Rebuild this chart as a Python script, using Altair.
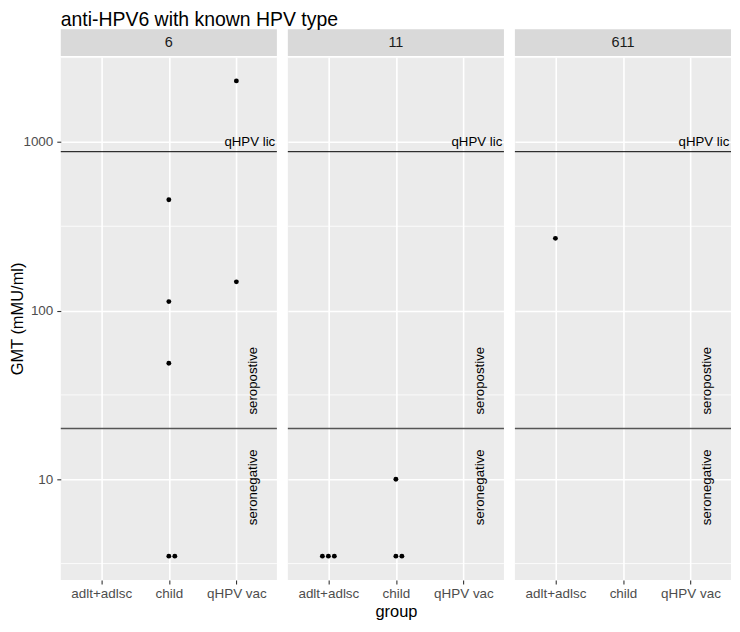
import altair as alt
import pandas as pd

TITLE = "anti-HPV6 with known HPV type"
panels = ["6", "11", "611"]
groups = ["adlt+adlsc", "child", "qHPV vac"]

pt_type = ["6"] * 7 + ["11"] * 6 + ["611"]
pt_group = (["child"] * 5 + ["qHPV vac"] * 2
            + ["adlt+adlsc"] * 3 + ["child"] * 3
            + ["adlt+adlsc"])
pt_gmt = [454, 113, 48.7, 3.5, 3.5, 2300, 148,
          3.5, 3.5, 3.5, 10, 3.5, 3.5,
          268]

lic_level = 875
lic_label = "qHPV lic"
sero_level = 20
sero_above = "seropostive"
sero_below = "seronegative"

y_ticks = [10, 100, 1000]
y_minor = [3.162, 31.62, 316.2, 3162]
y_domain = [2.53, 3185]

FONT = "Liberation Sans"
PW, PH = 217, 525

pts = pd.DataFrame({"type": pt_type, "group": pt_group, "gmt": pt_gmt})
key = ["type", "group", "gmt"]
pts["rank"] = pts.groupby(key).cumcount()
pts["n"] = pts.groupby(key)["gmt"].transform("size")
pts["dodge"] = pts["rank"] - (pts["n"] - 1) // 2

minor_df = pd.DataFrame({"gmt": y_minor})
lic_df = pd.DataFrame({"group": ["qHPV vac"], "gmt": [lic_level], "label": [lic_label]})
above_df = pd.DataFrame({"group": ["qHPV vac"], "gmt": [sero_level], "label": [sero_above]})
below_df = pd.DataFrame({"group": ["qHPV vac"], "gmt": [sero_level], "label": [sero_below]})


def panel(t, i):
    first = i == 0
    middle = i == 1
    xs = alt.Scale(type="point", domain=groups, padding=0.6)
    ys = alt.Scale(type="log", domain=y_domain, nice=False)
    xaxis = alt.Axis(title="group" if middle else None, labelAngle=0,
                     titlePadding=3, labelPadding=3, grid=True)
    if first:
        yaxis = alt.Axis(title="GMT (mMU/ml)", values=y_ticks, format="d",
                         titleX=-51, titleY=PH / 2, titleBaseline="top",
                         titleAngle=270, labelPadding=4, grid=True)
    else:
        yaxis = alt.Axis(title=None, values=y_ticks, labels=False,
                         ticks=False, grid=True)
    X = alt.X("group:N", scale=xs, axis=xaxis)
    Y = alt.Y("gmt:Q", scale=ys, axis=yaxis)

    minor = alt.Chart(minor_df).mark_rule(color="white", strokeWidth=0.8).encode(y=Y)
    points = (alt.Chart(pts).transform_filter(alt.datum.type == t)
              .mark_circle(size=24, color="black", opacity=1)
              .encode(x=X, y=Y,
                      xOffset=alt.XOffset("dodge:Q",
                                          scale=alt.Scale(domain=[-1, 1], range=[-6, 6]))))
    lic_rule = alt.Chart(lic_df).mark_rule(color="black", strokeWidth=1).encode(y=Y)
    sero_rule = alt.Chart(above_df).mark_rule(color="#555555", strokeWidth=1.6).encode(y=Y)
    lic_text = (alt.Chart(lic_df)
                .mark_text(align="right", baseline="alphabetic", dx=39, dy=-6,
                           fontSize=13.3, color="black")
                .encode(x=X, y=Y, text="label:N"))
    above_text = (alt.Chart(above_df)
                  .mark_text(angle=270, align="left", baseline="middle", dx=14, dy=17,
                             fontSize=13.3, color="black")
                  .encode(x=X, y=Y, text="label:N"))
    below_text = (alt.Chart(below_df)
                  .mark_text(angle=270, align="right", baseline="middle", dx=-21, dy=17,
                             fontSize=13.3, color="black")
                  .encode(x=X, y=Y, text="label:N"))
    main = alt.layer(minor, points, lic_rule, sero_rule, lic_text, above_text,
                     below_text).properties(width=PW, height=PH)

    strip = (alt.Chart(pd.DataFrame({"type": [t]}))
             .mark_text(fontSize=14.5, color="#1A1A1A")
             .encode(text="type:N")
             .properties(width=PW, height=27,
                         view=alt.ViewBackground(fill="#D9D9D9", stroke=None)))
    return alt.vconcat(strip, main, spacing=1)


chart = (alt.hconcat(*[panel(t, i) for i, t in enumerate(panels)], spacing=9)
         .properties(title=alt.Title(TITLE, anchor="start", fontSize=19.5, dx=51,
                                     offset=-1, color="black", fontWeight="normal"),
                     padding={"left": 2, "top": 0, "right": 0, "bottom": 0})
         .configure(font=FONT)
         .configure_view(fill="#EBEBEB", stroke=None)
         .configure_axis(gridColor="white", gridWidth=1.6, domain=False,
                         tickColor="#333333", tickSize=4, tickWidth=1.1,
                         labelColor="#4D4D4D", labelFontSize=13.5,
                         titleColor="black", titleFontSize=16.5,
                         titleFontWeight="normal")
         .configure_title(font=FONT))

chart.save("out.html", embed_options={"renderer": "svg", "actions": False})
